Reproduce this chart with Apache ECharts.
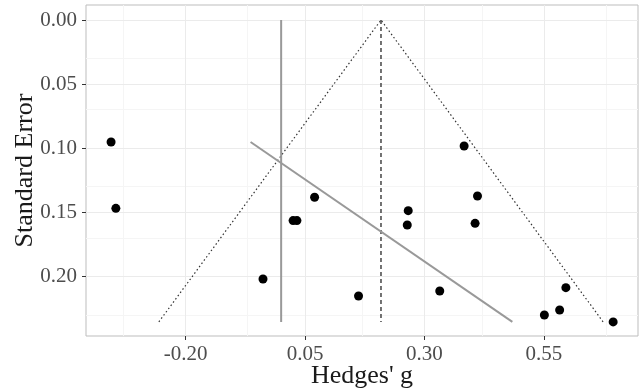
<!DOCTYPE html>
<html lang="en">
<head>
	<meta charset="UTF-8">
	<title>Funnel plot</title>
	<style>
	body, div {
		margin: 0;
		padding: 0;
	}
	.echart {
		width: 639px;
		height: 391px;
		background: #fff;
	}
	</style>
</head>
<body>
	<div id="echart" class="echart"></div>

	<script src="https://cdn.jsdelivr.net/npm/echarts@6/dist/echarts.min.js"></script>
	<script>

	// study effects (Hedges' g) and their standard errors
	var studyG  = [-0.356, -0.346, -0.038, 0.025, 0.033, 0.070, 0.162, 0.266, 0.264, 0.332, 0.383, 0.411, 0.406, 0.551, 0.583, 0.596, 0.695];
	var studySE = [0.0952, 0.1469, 0.2020, 0.1565, 0.1565, 0.1383, 0.2153, 0.1487, 0.1599, 0.2114, 0.0983, 0.1373, 0.1586, 0.2301, 0.2262, 0.2088, 0.2355];

	// funnel (pseudo confidence region) corners
	var funnelG  = [-0.256, 0.209, 0.674];
	var funnelSE = [0.2355, 0, 0.2355];

	// pooled effect and zero line
	var pooledG = 0.209;
	var zeroG = 0;
	var seRange = [0, 0.2355];

	// regression line
	var regG  = [-0.064, 0.484];
	var regSE = [0.0952, 0.2355];

	// ticks
	var xTicks = [-0.20, 0.05, 0.30, 0.55];
	var xMinor = [-0.325, -0.075, 0.175, 0.425, 0.675];
	var yTicks = [0.00, 0.05, 0.10, 0.15, 0.20];
	var yMinor = [0.025, 0.075, 0.125, 0.175, 0.225];

	var FONT = 'Liberation Serif';

	function pairs(xs, ys) {
		var out = [];
		for (var i = 0; i < xs.length; i++) out.push([xs[i], ys[i]]);
		return out;
	}

	// grid lines as mark lines (ggplot style major + minor)
	var gridLines = [];
	xMinor.forEach(function (v) { gridLines.push({ xAxis: v, lineStyle: { color: '#f5f5f5' } }); });
	yMinor.forEach(function (v) { gridLines.push({ yAxis: v, lineStyle: { color: '#f5f5f5' } }); });
	xTicks.forEach(function (v) { gridLines.push({ xAxis: v, lineStyle: { color: '#ebebeb' } }); });
	yTicks.forEach(function (v) { gridLines.push({ yAxis: v, lineStyle: { color: '#ebebeb' } }); });

	var option = {
		animation: false,
		backgroundColor: '#fff',
		grid: {
			left: 86,
			right: 1,
			top: 5,
			bottom: 55,
			containLabel: false,
			outerBoundsMode: 'none',
			show: true,
			borderColor: '#bdbdbd',
			borderWidth: 1,
			backgroundColor: '#fff'
		},
		xAxis: {
			type: 'value',
			min: -0.4085,
			max: 0.747,
			name: "Hedges' g",
			nameLocation: 'middle',
			nameGap: 27,
			nameMoveOverlap: false,
			nameTextStyle: { fontFamily: FONT, fontSize: 26, color: '#1a1a1a' },
			axisLine: { show: false, onZero: false },
			splitLine: { show: false },
			axisTick: { show: true, length: 4, customValues: xTicks, lineStyle: { color: '#333' } },
			axisLabel: {
				customValues: xTicks,
				margin: 8,
				fontFamily: FONT,
				fontSize: 21,
				color: '#4d4d4d',
				formatter: function (v) { return v.toFixed(2); }
			}
		},
		yAxis: {
			type: 'value',
			inverse: true,
			min: -0.0117,
			max: 0.2465,
			name: 'Standard Error',
			nameLocation: 'middle',
			nameGap: 48,
			nameMoveOverlap: false,
			nameTextStyle: { fontFamily: FONT, fontSize: 26, color: '#1a1a1a' },
			axisLine: { show: false, onZero: false },
			splitLine: { show: false },
			axisTick: { show: true, length: 4, customValues: yTicks, lineStyle: { color: '#333' } },
			axisLabel: {
				customValues: yTicks,
				margin: 9,
				fontFamily: FONT,
				fontSize: 21,
				color: '#4d4d4d',
				formatter: function (v) { return v.toFixed(2); }
			}
		},
		series: [
			{
				name: 'grid',
				type: 'line',
				data: [],
				z: 0,
				silent: true,
				markLine: {
					silent: true,
					z: 0,
					symbol: ['none', 'none'],
					label: { show: false },
					animation: false,
					lineStyle: { type: 'solid', width: 1 },
					emphasis: { disabled: true },
					data: gridLines
				}
			},
			{
				name: 'funnel',
				type: 'line',
				data: pairs(funnelG, funnelSE),
				showSymbol: false,
				z: 2,
				lineStyle: { color: '#333', width: 1.2, type: [1.5, 2.5] }
			},
			{
				name: 'pooled',
				type: 'line',
				data: pairs([pooledG, pooledG], seRange),
				showSymbol: false,
				z: 2,
				lineStyle: { color: '#444', width: 1.5, type: [4, 3] }
			},
			{
				name: 'zero',
				type: 'line',
				data: pairs([zeroG, zeroG], seRange),
				showSymbol: false,
				z: 3,
				lineStyle: { color: '#999', width: 2 }
			},
			{
				name: 'regression',
				type: 'line',
				data: pairs(regG, regSE),
				showSymbol: false,
				z: 3,
				lineStyle: { color: '#999', width: 2 }
			},
			{
				name: 'studies',
				type: 'scatter',
				data: pairs(studyG, studySE),
				symbolSize: 9,
				z: 10,
				itemStyle: { color: '#000', opacity: 1 }
			}
		]
	};

	var myEcharts = echarts.init(document.getElementById('echart'));
	myEcharts.setOption(option);

	</script>
</body>
</html>
